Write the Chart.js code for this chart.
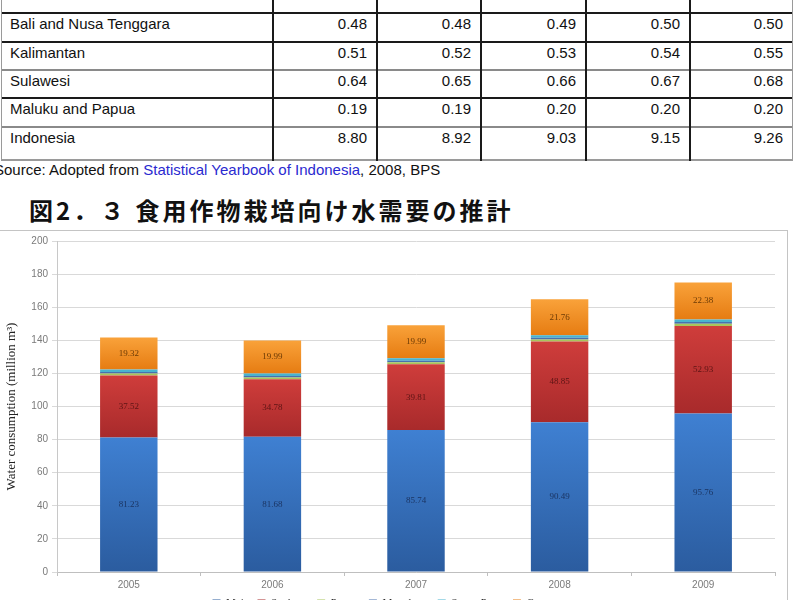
<!DOCTYPE html>
<html>
<head>
<meta charset="utf-8">
<script src="https://cdn.jsdelivr.net/npm/chart.js"></script>
<style>
    body {
        margin: 0;
        width: 795px;
        height: 600px;
        overflow: hidden;
        background: #fff;
        position: relative;
        font-family: "Liberation Sans", Arial, sans-serif;
    }
    .ln { position: absolute; }
    .cell {
        position: absolute;
        font-size: 15px;
        line-height: 18px;
        color: #111;
        white-space: nowrap;
    }
    .num { text-align: right; }
    .source {
        position: absolute;
        left: -6px;
        top: 161px;
        font-size: 15px;
        line-height: 18px;
        color: #111;
        white-space: nowrap;
    }
    .source span { color: #2a2ad0; }
    .title {
        position: absolute;
        left: 29px;
        top: 195px;
        font-family: "Noto Sans CJK JP", sans-serif;
        font-weight: bold;
        font-size: 24px;
        line-height: 30px;
        letter-spacing: 3px;
        color: #111;
        white-space: nowrap;
    }
    .frame {
        position: absolute;
        left: -1px;
        top: 230px;
        width: 787px;
        height: 400px;
        border: 1px solid #c4c4c4;
    }
    .chart-box {
        position: absolute;
        left: 0;
        top: 230px;
        width: 790px;
        height: 389px;
    }
</style>
</head>
<body>

<div id="table"></div>
<div class="source">Source: Adopted from <span>Statistical Yearbook of Indonesia</span>, 2008, BPS</div>
<div class="title">図2．３ 食用作物栽培向け水需要の推計</div>
<div class="frame"></div>
<div class="chart-box"><canvas id="c"></canvas></div>

<script>
// -----------------------------
// TABLE DATA
// -----------------------------
const regions = ["Bali and Nusa Tenggara", "Kalimantan", "Sulawesi", "Maluku and Papua", "Indonesia"];
const regionValues = [
    ["0.48", "0.48", "0.49", "0.50", "0.50"],
    ["0.51", "0.52", "0.53", "0.54", "0.55"],
    ["0.64", "0.65", "0.66", "0.67", "0.68"],
    ["0.19", "0.19", "0.20", "0.20", "0.20"],
    ["8.80", "8.92", "9.03", "9.15", "9.26"]
];

// -----------------------------
// CHART DATA
// -----------------------------
const years = ["2005", "2006", "2007", "2008", "2009"];
const maize = [81.23, 81.68, 85.74, 90.49, 95.76];
const soybeans = [37.52, 34.78, 39.81, 48.85, 52.93];
const peanuts = [1.2, 1.1, 1.2, 1.2, 1.3];
const mungbeans = [0.9, 0.9, 0.9, 1.0, 1.0];
const sweetPotato = [1.5, 1.5, 1.5, 1.5, 1.6];
const cassava = [19.32, 19.99, 19.99, 21.76, 22.38];
const yTicks = [0, 20, 40, 60, 80, 100, 120, 140, 160, 180, 200];

// -----------------------------
// TABLE
// -----------------------------
const tbl = document.getElementById("table");
const colX = [1, 272, 376, 480, 585, 689, 792];
const rowY = [12, 41, 69, 97, 126, 159];
const rowColor = ["#1a1a1a", "#1a1a1a", "#8a8a8a", "#1a1a1a", "#8a8a8a", "#9a9a9a"];

function addLine(x, y, w, h, color) {
    const d = document.createElement("div");
    d.className = "ln";
    d.style.cssText = `left:${x}px;top:${y}px;width:${w}px;height:${h}px;background:${color}`;
    tbl.appendChild(d);
}

rowY.forEach((y, i) => addLine(1, y, 792, 2, rowColor[i]));
colX.forEach((x, i) => {
    const edge = i === 0 || i === colX.length - 1;
    addLine(x, 0, edge ? 1 : 2, 161, edge ? "#9a9a9a" : "#1a1a1a");
});

regions.forEach((name, r) => {
    const top = rowY[r] + 3;
    const label = document.createElement("div");
    label.className = "cell";
    label.style.left = "10px";
    label.style.top = top + "px";
    label.textContent = name;
    tbl.appendChild(label);

    regionValues[r].forEach((v, c) => {
        const n = document.createElement("div");
        n.className = "cell num";
        n.style.left = colX[c + 1] + "px";
        n.style.width = (colX[c + 2] - colX[c + 1] - 9) + "px";
        n.style.top = top + "px";
        n.textContent = v;
        tbl.appendChild(n);
    });
});

// -----------------------------
// GRADIENT FILL PER SEGMENT
// -----------------------------
const series = [maize, soybeans, peanuts, mungbeans, sweetPotato, cassava];

function segmentFill(di, light, dark) {
    return function (ctx) {
        const chart = ctx.chart;
        const y = chart.scales.y;
        if (!chart.chartArea || !y || ctx.dataIndex === undefined) return dark;
        let base = 0;
        for (let k = 0; k < di; k++) base += series[k][ctx.dataIndex];
        const top = y.getPixelForValue(base + series[di][ctx.dataIndex]);
        const bottom = y.getPixelForValue(base);
        if (!isFinite(top) || !isFinite(bottom) || top === bottom) return dark;
        const g = chart.ctx.createLinearGradient(0, top, 0, bottom);
        g.addColorStop(0, light);
        g.addColorStop(1, dark);
        return g;
    };
}

// -----------------------------
// VALUE LABELS
// -----------------------------
const labelColors = { 0: "#1b3563", 1: "#5c1414", 5: "#6b3a05" };

const valueLabels = {
    id: "valueLabels",
    afterDatasetsDraw(chart) {
        const c = chart.ctx;
        c.save();
        c.font = "9px 'Liberation Serif', serif";
        c.textAlign = "center";
        c.textBaseline = "middle";
        Object.keys(labelColors).forEach(k => {
            const di = Number(k);
            const meta = chart.getDatasetMeta(di);
            c.fillStyle = labelColors[k];
            meta.data.forEach((bar, i) => {
                const v = series[di][i];
                c.fillText(v.toFixed(2), bar.x, (bar.y + bar.base) / 2);
            });
        });
        c.restore();
    }
};

// -----------------------------
// CHART
// -----------------------------
new Chart(document.getElementById("c"), {
    type: "bar",
    data: {
        labels: years,
        datasets: [
            { label: "Maize", data: maize, backgroundColor: segmentFill(0, "#3f80d2", "#2b5c9f") },
            { label: "Soybeans", data: soybeans, backgroundColor: segmentFill(1, "#cf3d3b", "#a82a2b") },
            { label: "Peanuts", data: peanuts, backgroundColor: "#a9c45c" },
            { label: "Mungbeans", data: mungbeans, backgroundColor: "#4a70ad" },
            { label: "Sweet Potato", data: sweetPotato, backgroundColor: "#49b3cf" },
            { label: "Cassava", data: cassava, backgroundColor: segmentFill(5, "#f9a23a", "#e67c12") }
        ]
    },
    options: {
        responsive: true,
        maintainAspectRatio: false,
        animation: false,
        datasets: {
            bar: { barPercentage: 0.4, categoryPercentage: 1.0, borderWidth: 0 }
        },
        layout: { padding: { top: 11, right: 15, left: 0, bottom: 0 } },
        plugins: {
            tooltip: { enabled: false },
            legend: {
                position: "bottom",
                labels: {
                    boxWidth: 8,
                    boxHeight: 8,
                    padding: 4,
                    color: "#333",
                    font: { family: "'Liberation Serif', serif", size: 11 }
                }
            }
        },
        scales: {
            x: {
                stacked: true,
                grid: {
                    offset: true,
                    drawOnChartArea: false,
                    tickLength: 4,
                    color: "#bfbfbf"
                },
                border: { color: "#bfbfbf" },
                ticks: {
                    padding: 3,
                    color: "#7a7a7a",
                    font: { family: "'Liberation Sans', sans-serif", size: 10 }
                }
            },
            y: {
                stacked: true,
                min: 0,
                max: 200,
                afterBuildTicks(scale) {
                    scale.ticks = yTicks.map(v => ({ value: v }));
                },
                afterFit(scale) {
                    scale.width = 57;
                },
                grid: { color: "#d9d9d9", tickLength: 5 },
                border: { color: "#c8c8c8" },
                ticks: {
                    padding: 4,
                    color: "#7a7a7a",
                    font: { family: "'Liberation Sans', sans-serif", size: 10 }
                },
                title: {
                    display: true,
                    text: "Water consumption (million m³)",
                    color: "#222",
                    font: { family: "'Liberation Serif', serif", size: 13 }
                }
            }
        }
    },
    plugins: [valueLabels]
});
</script>
</body>
</html>
